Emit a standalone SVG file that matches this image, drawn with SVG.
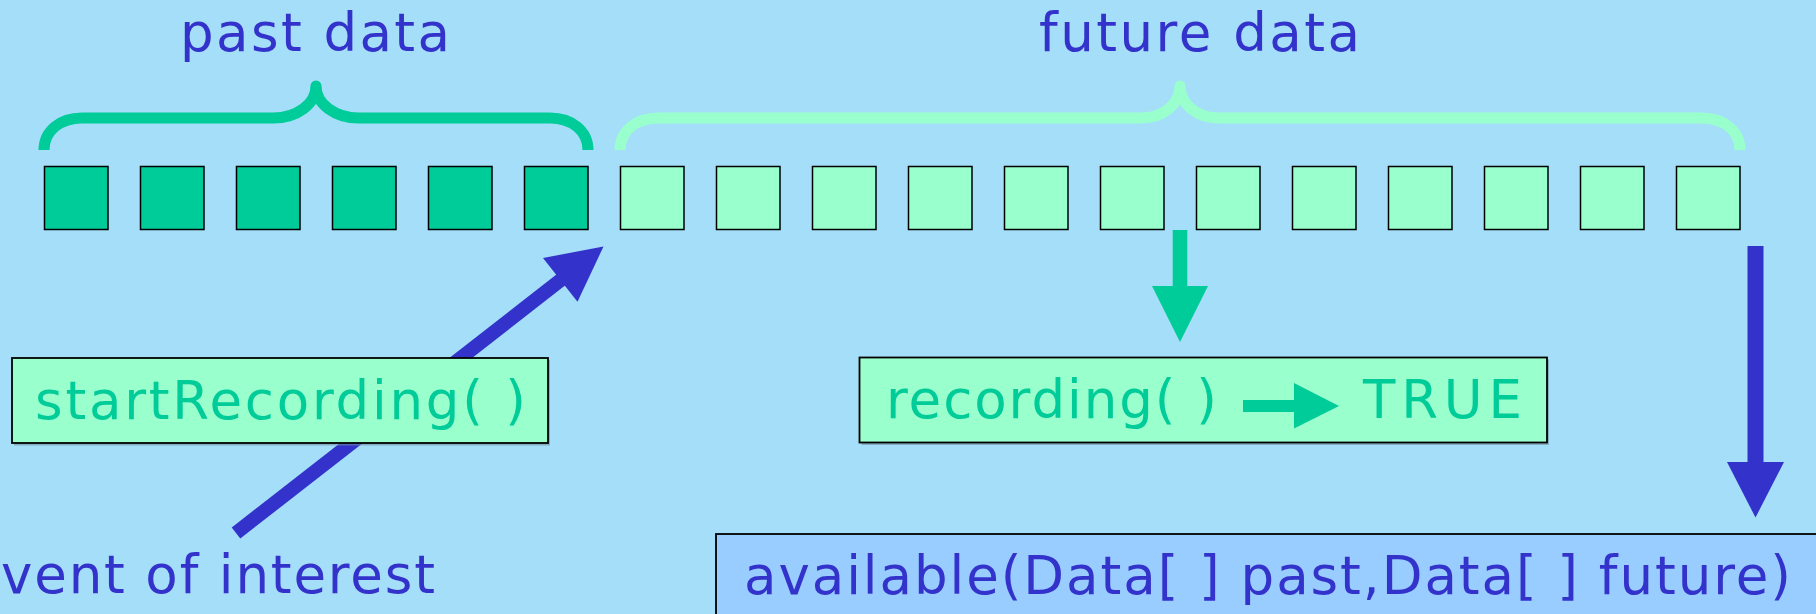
<svg xmlns="http://www.w3.org/2000/svg" width="1816" height="614" viewBox="0 0 1816 614">
  <style>
    .bg { fill: #A4DEF9; }
    .past { fill: #00CC99; stroke: #000; stroke-width: 1.5; }
    .fut { fill: #99FFCC; stroke: #000; stroke-width: 1.5; }
    .box { fill: #99FFCC; stroke: #000; stroke-width: 1.8; }
    .box2 { fill: #99CCFF; stroke: #000; stroke-width: 1.8; }
    .shadow { fill: #6F8F9F; opacity: 0.6; }
    .brace { fill: none; stroke-width: 11; stroke-linecap: butt; }
    .lbl { font-family: "DejaVu Sans", "Verdana", sans-serif; font-size: 53px; }
    .blue { fill: #3333CC; }
    .green { fill: #00CC99; }
  </style>
  <rect class="bg" x="0" y="0" width="1816" height="614"/>

  <!-- labels above -->
  <g id="label-past">
    <text class="lbl blue" x="180" y="51" textLength="270" lengthAdjust="spacing">past data</text>
  </g>
  <g id="label-future">
    <text class="lbl blue" x="1039" y="51" textLength="321" lengthAdjust="spacing">future data</text>
  </g>

  <!-- braces -->
  <g id="brace-past">
    <path class="brace" stroke="#00CC99" d="M44,150 C44,131 60,118 82,118 L273,118 C297,118 316,104 316,86 C316,104 335,118 359,118 L550,118 C572,118 588,131 588,150"/>
    <circle cx="316" cy="86" r="5.5" fill="#00CC99"/>
  </g>
  <g id="brace-future">
    <path class="brace" stroke="#99FFCC" d="M620,150 C620,131 636,118 658,118 L1141,118 C1163,118 1180,104 1180,86 C1180,104 1197,118 1219,118 L1702,118 C1724,118 1740,131 1740,150"/>
    <circle cx="1180" cy="86" r="5.5" fill="#99FFCC"/>
  </g>

  <!-- data cells -->
  <g id="cell-0"><rect class="past" x="44.5" y="166.5" width="63.5" height="63"/></g>
  <g id="cell-1"><rect class="past" x="140.5" y="166.5" width="63.5" height="63"/></g>
  <g id="cell-2"><rect class="past" x="236.5" y="166.5" width="63.5" height="63"/></g>
  <g id="cell-3"><rect class="past" x="332.5" y="166.5" width="63.5" height="63"/></g>
  <g id="cell-4"><rect class="past" x="428.5" y="166.5" width="63.5" height="63"/></g>
  <g id="cell-5"><rect class="past" x="524.5" y="166.5" width="63.5" height="63"/></g>
  <g id="cell-6"><rect class="fut" x="620.5" y="166.5" width="63.5" height="63"/></g>
  <g id="cell-7"><rect class="fut" x="716.5" y="166.5" width="63.5" height="63"/></g>
  <g id="cell-8"><rect class="fut" x="812.5" y="166.5" width="63.5" height="63"/></g>
  <g id="cell-9"><rect class="fut" x="908.5" y="166.5" width="63.5" height="63"/></g>
  <g id="cell-10"><rect class="fut" x="1004.5" y="166.5" width="63.5" height="63"/></g>
  <g id="cell-11"><rect class="fut" x="1100.5" y="166.5" width="63.5" height="63"/></g>
  <g id="cell-12"><rect class="fut" x="1196.5" y="166.5" width="63.5" height="63"/></g>
  <g id="cell-13"><rect class="fut" x="1292.5" y="166.5" width="63.5" height="63"/></g>
  <g id="cell-14"><rect class="fut" x="1388.5" y="166.5" width="63.5" height="63"/></g>
  <g id="cell-15"><rect class="fut" x="1484.5" y="166.5" width="63.5" height="63"/></g>
  <g id="cell-16"><rect class="fut" x="1580.5" y="166.5" width="63.5" height="63"/></g>
  <g id="cell-17"><rect class="fut" x="1676.5" y="166.5" width="63.5" height="63"/></g>

  <!-- connectors -->
  <g id="connectors">
    <line x1="236" y1="533" x2="562" y2="279" stroke="#3333CC" stroke-width="14"/>
    <polygon class="blue" points="603.5,246.5 543,258 577.5,301.7"/>
    <rect class="green" x="1172.7" y="230" width="14.6" height="57"/>
    <polygon class="green" points="1152,286 1208,286 1180,342"/>
    <rect class="blue" x="1747.5" y="246" width="16" height="217"/>
    <polygon class="blue" points="1727,462 1784,462 1755.5,517.5"/>
  </g>

  <!-- boxes -->
  <g id="node-startRecording">
    <rect class="shadow" x="14" y="360" width="536" height="85.5"/>
    <rect class="box" x="12" y="358" width="536" height="85"/>
    <text class="lbl green" x="35" y="419" textLength="491" lengthAdjust="spacing">startRecording( )</text>
  </g>
  <g id="node-recording">
    <rect class="shadow" x="861.5" y="359.5" width="687.5" height="85.5"/>
    <rect class="box" x="859.5" y="357.5" width="687.5" height="85"/>
    <text class="lbl green" x="886" y="418" textLength="331" lengthAdjust="spacing">recording( )</text>
    <rect class="green" x="1243" y="400" width="52" height="12"/>
    <polygon class="green" points="1294,383 1294,428.5 1339,406"/>
    <text class="lbl green" x="1363" y="418" textLength="159" lengthAdjust="spacing">TRUE</text>
  </g>
  <g id="node-available">
    <rect class="box2" x="716" y="534" width="1120" height="100"/>
    <text class="lbl blue" x="744" y="594" textLength="1047" lengthAdjust="spacing">available(Data[ ] past,Data[ ] future)</text>
  </g>
  <g id="label-event">
    <text class="lbl blue" x="1" y="593" textLength="434" lengthAdjust="spacing">vent of interest</text>
  </g>
</svg>
